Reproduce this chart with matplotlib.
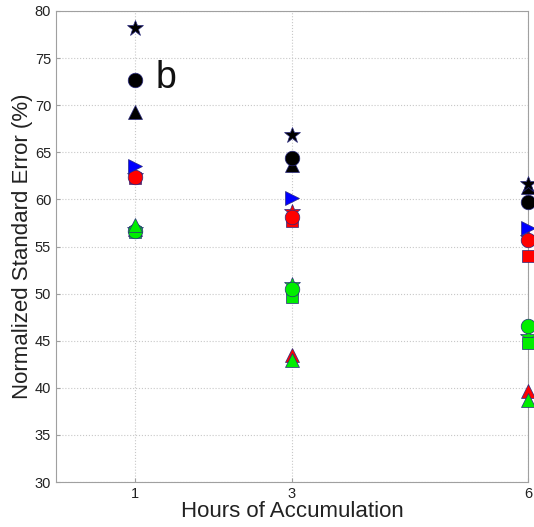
import numpy as np
import matplotlib
matplotlib.use('Agg')
import matplotlib.pyplot as plt

plt.rcParams['font.family'] = ['Liberation Sans', 'DejaVu Sans']

hours = [1, 3, 6]

# values (%)
red_star = [62.5, 58.7, 55.9]
red_square = [62.3, 57.7, 54.0]
red_circle = [62.4, 58.1, 55.7]
red_triangle = [56.9, 43.5, 39.7]
green_star = [56.8, 50.9, 45.4]
green_square = [56.5, 49.6, 44.8]
green_circle = [56.6, 50.5, 46.6]
green_triangle = [57.3, 43.0, 38.7]
blue_right = [63.5, 60.1, 57.0]
black_triangle = [69.3, 63.7, 61.3]
black_circle = [72.7, 64.4, 59.7]
black_star = [78.2, 66.8, 61.6]

yticks = [30, 35, 40, 45, 50, 55, 60, 65, 70, 75, 80]

fig = plt.figure(figsize=(5.34, 5.27), dpi=100)
ax = fig.add_axes([56 / 534, 45 / 527, 472 / 534, 471 / 527])

edge = '#2a2a80'
series = [
    (red_square, 'r', 's', 9),
    (red_star, 'r', '*', 12),
    (red_circle, 'r', 'o', 10.5),
    (red_triangle, 'r', '^', 10.5),
    (green_star, '#00ee00', '*', 12),
    (green_square, '#00ee00', 's', 9),
    (green_circle, '#00ee00', 'o', 10.5),
    (green_triangle, '#00ee00', '^', 10.5),
    (blue_right, 'b', '>', 10.5),
    (black_triangle, 'k', '^', 10.5),
    (black_circle, 'k', 'o', 10.5),
    (black_star, 'k', '*', 12),
]
for vals, c, m, s in series:
    ax.plot(hours, vals, linestyle='none', marker=m, ms=s, mfc=c,
            mec=edge, mew=0.5, clip_on=False, zorder=3)

ax.set_xlim(0, 6)
ax.set_ylim(30, 80)
ax.set_xticks(hours)
ax.set_yticks(yticks)
ax.grid(True, linestyle=':', color='#c8c8c8', linewidth=0.8)
for s in ax.spines.values():
    s.set_color('#a0a0a0')
ax.tick_params(direction='in', length=3, colors='#a0a0a0', labelcolor='#222222',
               labelsize=10.5)
ax.set_xlabel('Hours of Accumulation', fontsize=16, color='#222222', labelpad=0)
ax.set_ylabel('Normalized Standard Error (%)', fontsize=16, color='#222222',
              labelpad=1)
ax.text(1.27, 72.9, 'b', fontsize=27, ha='left', va='center', color='#111111')

fig.savefig('out.png', dpi=100)
